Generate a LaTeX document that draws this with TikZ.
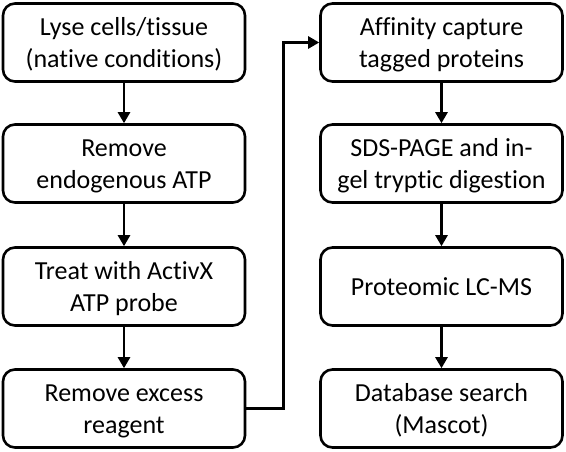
\documentclass[tikz,border=0pt]{standalone}
\usepackage{fontspec}
\setmainfont{Carlito}[Ligatures=CommonOff]
\usepackage{tikz}
\usetikzlibrary{arrows.meta,positioning}

\newcommand{\boxstrut}{\rule[-7.4pt]{0pt}{33.4pt}}

\begin{document}
\begin{tikzpicture}[
    x=1pt, y=-1pt,
    stepbox/.style={rectangle, draw, rounded corners=12pt, line width=2.6pt, minimum width=242pt, minimum height=78pt, align=center, font=\fontsize{26}{32.3}\selectfont, execute at end node=\boxstrut},
    arrow/.style={-{Triangle[length=11pt,width=12pt]}, line width=2.6pt}
]
    \useasboundingbox (0,0) rectangle (566,452);

    % Left column
    \node[stepbox] (lyse) at (124,42.5) {\boxstrut Lyse cells/tissue\\(native conditions)};
    \node[stepbox] (atp) at (124,163.5) {\boxstrut Remove\\endogenous ATP};
    \node[stepbox] (probe) at (124,286.5) {\boxstrut Treat with ActivX\\ATP probe};
    \node[stepbox] (excess) at (124,408.5) {\boxstrut Remove excess\\reagent};

    % Right column
    \node[stepbox] (capture) at (441.5,42.5) {\boxstrut Affinity capture\\tagged proteins};
    \node[stepbox] (sds) at (441.5,163.5) {\boxstrut SDS-PAGE and in-\\gel tryptic digestion};
    \node[stepbox] (lcms) at (441.5,286.5) {\boxstrut Proteomic LC-MS};
    \node[stepbox] (search) at (441.5,408.5) {\boxstrut Database search\\(Mascot)};

    % Arrows
    \draw[arrow] (lyse) -- (atp);
    \draw[arrow] (atp) -- (probe);
    \draw[arrow] (probe) -- (excess);
    \draw[arrow] (excess.east) -- ++(37,0) |- (capture.west);
    \draw[arrow] (capture) -- (sds);
    \draw[arrow] (sds) -- (lcms);
    \draw[arrow] (lcms) -- (search);
\end{tikzpicture}
\end{document}
